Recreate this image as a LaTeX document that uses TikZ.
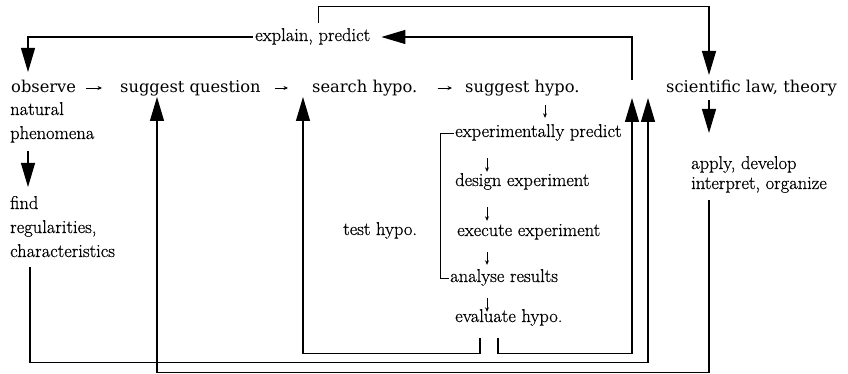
\documentclass[tikz,border=0pt]{standalone}
\usepackage{fontspec}
\newfontfamily\rowfont{DejaVu Serif}
\newfontfamily\txtfont[FakeBold=0.6]{Latin Modern Roman}
\usetikzlibrary{arrows.meta}
\begin{document}
\begin{tikzpicture}[x=1pt,y=-1pt,
  lbl/.style={anchor=west,inner sep=0pt,text height=8pt,text depth=0pt,font=\fontsize{18.5}{22}\selectfont\txtfont},
  tt/.style={anchor=west,inner sep=0pt,text height=8.5pt,text depth=0pt,font=\fontsize{16.3}{20}\selectfont\rowfont},
  conn/.style={line width=1.2pt},
  bigarr/.style={conn,-{Triangle[length=24pt,width=14pt]}},
  small/.style={line width=0.8pt,-{Stealth[length=4.5pt,width=4pt]}},
  brk/.style={line width=0.9pt}]
\useasboundingbox (0,0) rectangle (848,374);
% nodes
\node[tt] (obs) at (11,88) {observe};
\node[tt] (sq) at (120,88) {suggest question};
\node[tt] (sh) at (312,88) {search hypo.};
\node[tt] (sgh) at (465,88) {suggest hypo.};
\node[tt] (sci) at (666,88) {scientific law, theory};
\node[lbl] (ep) at (255,37) {explain, predict};
\node[lbl] (nat) at (10,111) {natural};
\node[lbl] (phen) at (10,135) {phenomena};
\node[lbl] (find) at (10,205) {find};
\node[lbl] (reg) at (10,229) {regularities,};
\node[lbl] (char) at (10,253) {characteristics};
\node[lbl] (test) at (343,231) {test hypo.};
\node[lbl] (expr) at (455,133) {experimentally predict};
\node[lbl] (design) at (455,182) {design experiment};
\node[lbl] (exec) at (457,232) {execute experiment};
\node[lbl] (anal) at (450,278) {analyse results};
\node[lbl] (eval) at (455,318) {evaluate hypo.};
\node[lbl] (apply) at (691,165) {apply, develop};
\node[lbl] (interp) at (691,185) {interpret, organize};
% coordinates
\coordinate (tipObs) at (28,72);
\coordinate (tipFind) at (28,187);
\coordinate (tipSQ) at (157,97);
\coordinate (tipSH) at (303,97);
\coordinate (tipR1) at (632,98);
\coordinate (tipR2) at (648,98);
\coordinate (tipSci) at (709,75);
\coordinate (tipApply) at (709,133);
\coordinate (epStart) at (632,80);
\coordinate (colA) at (487,0);
\coordinate (colB) at (545,0);
% big connectors
\draw[bigarr,shorten <=2pt] (ep.west) -| (tipObs);
\draw[bigarr] ([xshift=6pt,yshift=10pt]ep.north) -- ++(0,-16) -| (tipSci);
\draw[bigarr] (epStart) |- ([xshift=11pt]ep.east);
\draw[bigarr] ([xshift=18pt,yshift=-12pt]phen.south west) -- (tipFind);
\draw[bigarr,shorten <=8pt] (sci.south -| tipApply) -- (tipApply);
\draw[bigarr] ([xshift=25pt,yshift=-16pt]eval.south west) -- ++(0,15) -| (tipSH);
\draw[bigarr] ([xshift=43pt,yshift=-16pt]eval.south west) -- ++(0,15) -| (tipR1);
\draw[bigarr] ([xshift=20pt,yshift=-10pt]char.south west) -- ++(0,95) -| (tipR2);
\draw[bigarr] ([xshift=18pt,yshift=-11pt]interp.south west) -- ++(0,172) -| (tipSQ);
% small arrows
\draw[small,shorten <=10pt,shorten >=18pt] (obs.east) -- (sq.west);
\draw[small,shorten <=14pt,shorten >=24pt] (sq.east) -- (sh.west);
\draw[small,shorten <=20pt,shorten >=13pt] (sh.east) -- (sgh.west);
\draw[small,shorten <=13pt,shorten >=11pt] (sgh.south -| colB) -- (expr.north -| colB);
\draw[small,shorten <=21pt,shorten >=6pt] (expr.south -| colA) -- (design.north -| colA);
\draw[small,shorten <=21pt,shorten >=7pt] (design.south -| colA) -- (exec.north -| colA);
\draw[small,shorten <=16pt,shorten >=9pt] (exec.south -| colA) -- (anal.north -| colA);
\draw[small,shorten <=16pt,shorten >=2pt] (anal.south -| colA) -- (eval.north -| colA);
% bracket
\draw[brk] ([xshift=-1pt]expr.west) -- ++(-14,0) |- ([xshift=-1pt]anal.west);
\end{tikzpicture}
\end{document}
